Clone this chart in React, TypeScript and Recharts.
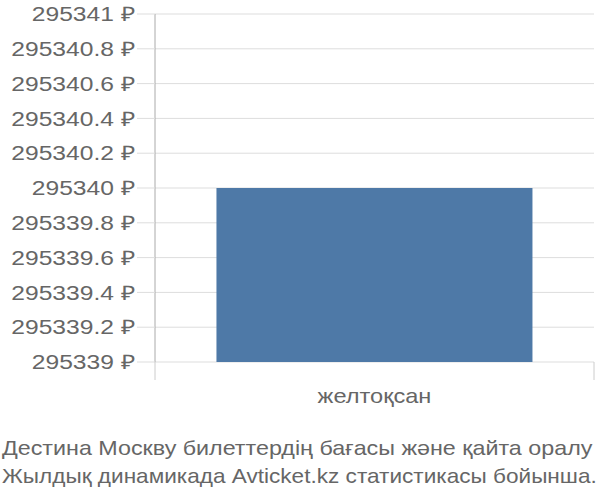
import React from 'react';
import { BarChart, Bar, XAxis, YAxis, CartesianGrid } from 'recharts';

const categories = ['желтоқсан'];
const prices = [295340];
const yTicks = [295339, 295339.2, 295339.4, 295339.6, 295339.8, 295340, 295340.2, 295340.4, 295340.6, 295340.8, 295341];
const captionLines = [
  'Дестина Москву билеттердің бағасы және қайта оралу',
  'Жылдық динамикада Avticket.kz статистикасы бойынша.',
];
const captionStretch = [1.165, 1.13];

const data = categories.map((c, i) => ({ name: c, price: prices[i] }));

const FONT = '"Liberation Sans", Arial, sans-serif';

const formatPrice = (v: number) => `${Number(v.toFixed(1)).toString()} ₽`;

const XTick = (props: any) => {
  const { x, y, payload, width } = props;
  const half = payload && payload.offset ? payload.offset : width / 2 / categories.length;
  return (
    <g>
      <line x1={x - half} x2={x - half} y1={y} y2={y + 18} stroke="#ccc" />
      <line x1={x + half} x2={x + half} y1={y} y2={y + 18} stroke="#ccc" />
      <text
        transform={`translate(${x},${y + 41}) scale(1.18,1)`}
        textAnchor="middle"
        fill="#666"
        fontSize={20}
        fontFamily={FONT}
      >
        {payload.value}
      </text>
    </g>
  );
};

const YTick = (props: any) => {
  const { x, y, payload } = props;
  return (
    <text
      transform={`translate(${x},${y}) scale(1.23,1)`}
      dy="0.36em"
      textAnchor="end"
      fill="#666"
      fontSize={20}
      fontFamily={FONT}
    >
      {formatPrice(payload.value)}
    </text>
  );
};

export default function App() {
  return (
    <div style={{ position: 'absolute', left: 0, top: 0, width: 600, height: 500, background: '#fff' }}>
      <BarChart
        width={600}
        height={420}
        data={data}
        margin={{ top: 14, right: 6, bottom: 18, left: 0 }}
        barCategoryGap="14%"
        style={{ overflow: 'visible' }}
      >
        <CartesianGrid vertical={false} stroke="#ddd" />
        <XAxis
          dataKey="name"
          axisLine={false}
          tickLine={false}
          tickSize={0}
          tickMargin={0}
          height={40}
          tick={<XTick />}
          interval={0}
        />
        <YAxis
          type="number"
          domain={[295339, 295341]}
          ticks={yTicks}
          interval={0}
          width={155}
          axisLine={{ stroke: '#aaa' }}
          tickLine={{ stroke: '#ddd' }}
          tickSize={18}
          tickMargin={2}
          tick={<YTick />}
        />
        <Bar dataKey="price" fill="#4e79a7" isAnimationActive={false} />
      </BarChart>
      <svg
        width={600}
        height={80}
        style={{ position: 'absolute', left: 0, top: 420, pointerEvents: 'none' }}
      >
        {captionLines.map((l, i) => (
          <text
            key={l}
            transform={`translate(2,${35 + i * 28}) scale(${captionStretch[i]},1)`}
            fill="#666"
            fontSize={20}
            fontFamily={FONT}
          >
            {l}
          </text>
        ))}
      </svg>
    </div>
  );
}
